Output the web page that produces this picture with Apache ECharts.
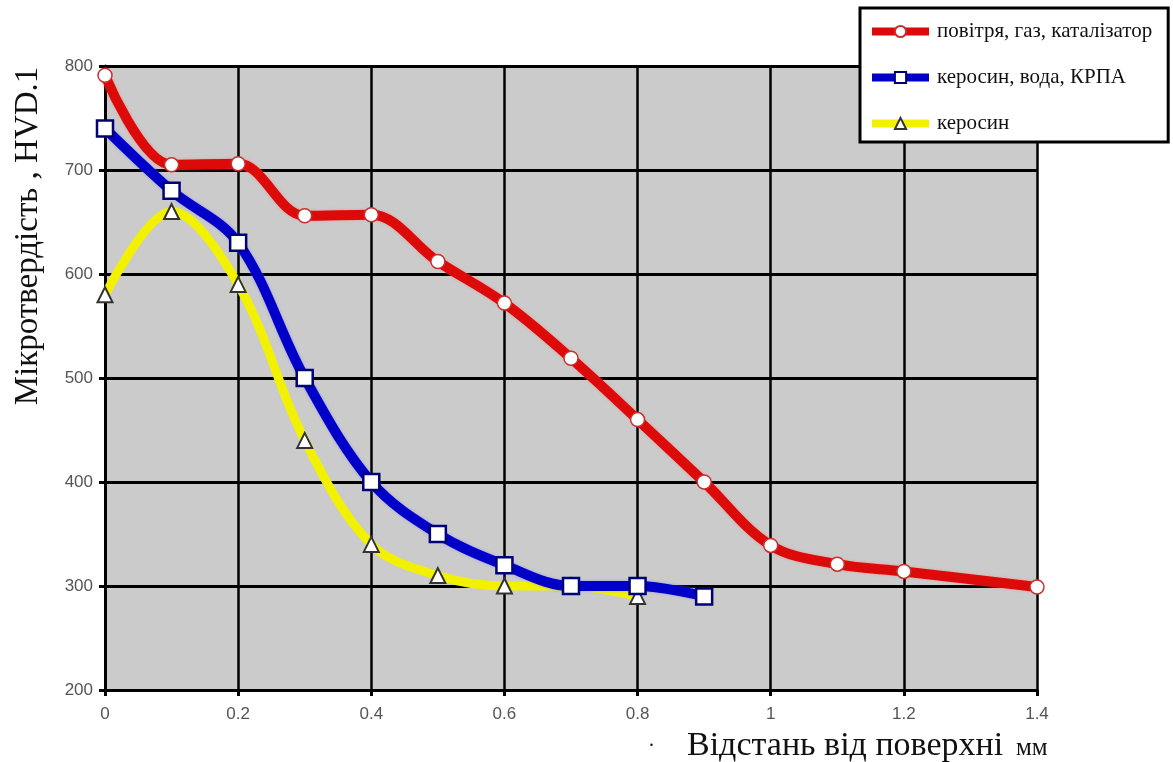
<!DOCTYPE html>
<html>
<head>
<meta charset="utf-8">
<script src="https://cdn.jsdelivr.net/npm/echarts@6/dist/echarts.min.js"></script>
<style>
  html, body { margin: 0; padding: 0; background: #fff; }
  #chart { width: 1173px; height: 762px; }
</style>
</head>
<body>
<div id="chart"></div>
<script>
// відстань від поверхні, мм
var depthRed = [0, 0.1, 0.2, 0.3, 0.4, 0.5, 0.6, 0.7, 0.8, 0.9, 1.0, 1.1, 1.2, 1.4];
var hardRed = [791, 705, 706, 656, 657, 612, 572, 519, 460, 400, 339, 321, 314, 299];

var depthBlue = [0, 0.1, 0.2, 0.3, 0.4, 0.5, 0.6, 0.7, 0.8, 0.9];
var hardBlue = [740, 680, 630, 500, 400, 350, 320, 300, 300, 290];

var depthYellow = [0, 0.1, 0.2, 0.3, 0.4, 0.5, 0.6, 0.7, 0.8];
var hardYellow = [580, 660, 590, 440, 340, 310, 300, 300, 290];

var seriesNames = ['повітря, газ, каталізатор', 'керосин, вода, КРПА', 'керосин'];

function pairs(xs, ys) {
  return xs.map(function (x, i) { return [x, ys[i]]; });
}

var myChart = echarts.init(document.getElementById('chart'));

var serif = 'Liberation Serif';

var option = {
  backgroundColor: '#fff',
  animation: false,
  grid: {
    left: 105, right: 136, top: 66, bottom: 72,
    containLabel: false, outerBoundsMode: 'none',
    show: true, backgroundColor: '#cbcbcb', borderWidth: 0
  },
  legend: {
    data: seriesNames,
    orient: 'vertical',
    left: 860, top: 8,
    padding: [13, 16, 8, 8],
    itemGap: 25,
    itemWidth: 57, itemHeight: 14,
    backgroundColor: '#fff',
    borderColor: '#000', borderWidth: 3,
    lineStyle: { width: 8 },
    textStyle: { fontFamily: serif, fontSize: 21, color: '#111', padding: [0, 0, 0, 3] }
  },
  // назви осей
  graphic: [
    {
      type: 'text', x: 28, y: 236, rotation: Math.PI / 2,
      style: { text: 'Мікротвердість , HVD.1', font: '33px "Liberation Serif"', fill: '#111', align: 'center', verticalAlign: 'middle' }
    },
    {
      type: 'text', x: 687, y: 746,
      style: { text: 'Відстань від поверхні', font: '34px "Liberation Serif"', fill: '#111', align: 'left', verticalAlign: 'middle' }
    },
    {
      type: 'text', x: 1016, y: 748,
      style: { text: 'мм', font: '25px "Liberation Serif"', fill: '#111', align: 'left', verticalAlign: 'middle' }
    },
    {
      type: 'text', x: 649, y: 741,
      style: { text: '.', font: '20px "Liberation Serif"', fill: '#111', align: 'left', verticalAlign: 'middle' }
    }
  ],
  xAxis: {
    type: 'value', min: 0, max: 1.4, interval: 0.2,
    axisLine: { show: true, onZero: false, lineStyle: { color: '#000', width: 3 } },
    axisTick: { show: true, length: 6, lineStyle: { color: '#000', width: 3 } },
    axisLabel: { color: '#555', fontFamily: 'Liberation Sans', fontSize: 17, margin: 16 },
    splitLine: { show: true, lineStyle: { color: '#000', width: 2.5 } }
  },
  yAxis: {
    type: 'value', min: 200, max: 800, interval: 100,
    axisLine: { show: true, onZero: false, lineStyle: { color: '#000', width: 3 } },
    axisTick: { show: true, length: 6, lineStyle: { color: '#000', width: 3 } },
    axisLabel: { color: '#555', fontFamily: 'Liberation Sans', fontSize: 17, margin: 12 },
    splitLine: { show: true, lineStyle: { color: '#000', width: 3 } }
  },
  series: [
    {
      name: seriesNames[0], type: 'line', smooth: 0.35, z: 4,
      data: pairs(depthRed, hardRed),
      symbol: 'circle', symbolSize: 14,
      lineStyle: { color: '#dd0a0a', width: 10, shadowColor: 'rgba(255,120,120,0.6)', shadowBlur: 3 },
      itemStyle: { color: '#fff', borderColor: '#c83030', borderWidth: 1.5 }
    },
    {
      name: seriesNames[1], type: 'line', smooth: 0.35, z: 3,
      data: pairs(depthBlue, hardBlue),
      symbol: 'rect', symbolSize: 16,
      lineStyle: { color: '#0000c8', width: 10, shadowColor: 'rgba(120,120,255,0.6)', shadowBlur: 3 },
      itemStyle: { color: '#fff', borderColor: '#00007a', borderWidth: 2.5 }
    },
    {
      name: seriesNames[2], type: 'line', smooth: 0.35, z: 2,
      data: pairs(depthYellow, hardYellow),
      symbol: 'triangle', symbolSize: 15,
      lineStyle: { color: '#f2f200', width: 9 },
      itemStyle: { color: '#fff', borderColor: '#333', borderWidth: 2 }
    }
  ]
};

myChart.setOption(option);
</script>
</body>
</html>
